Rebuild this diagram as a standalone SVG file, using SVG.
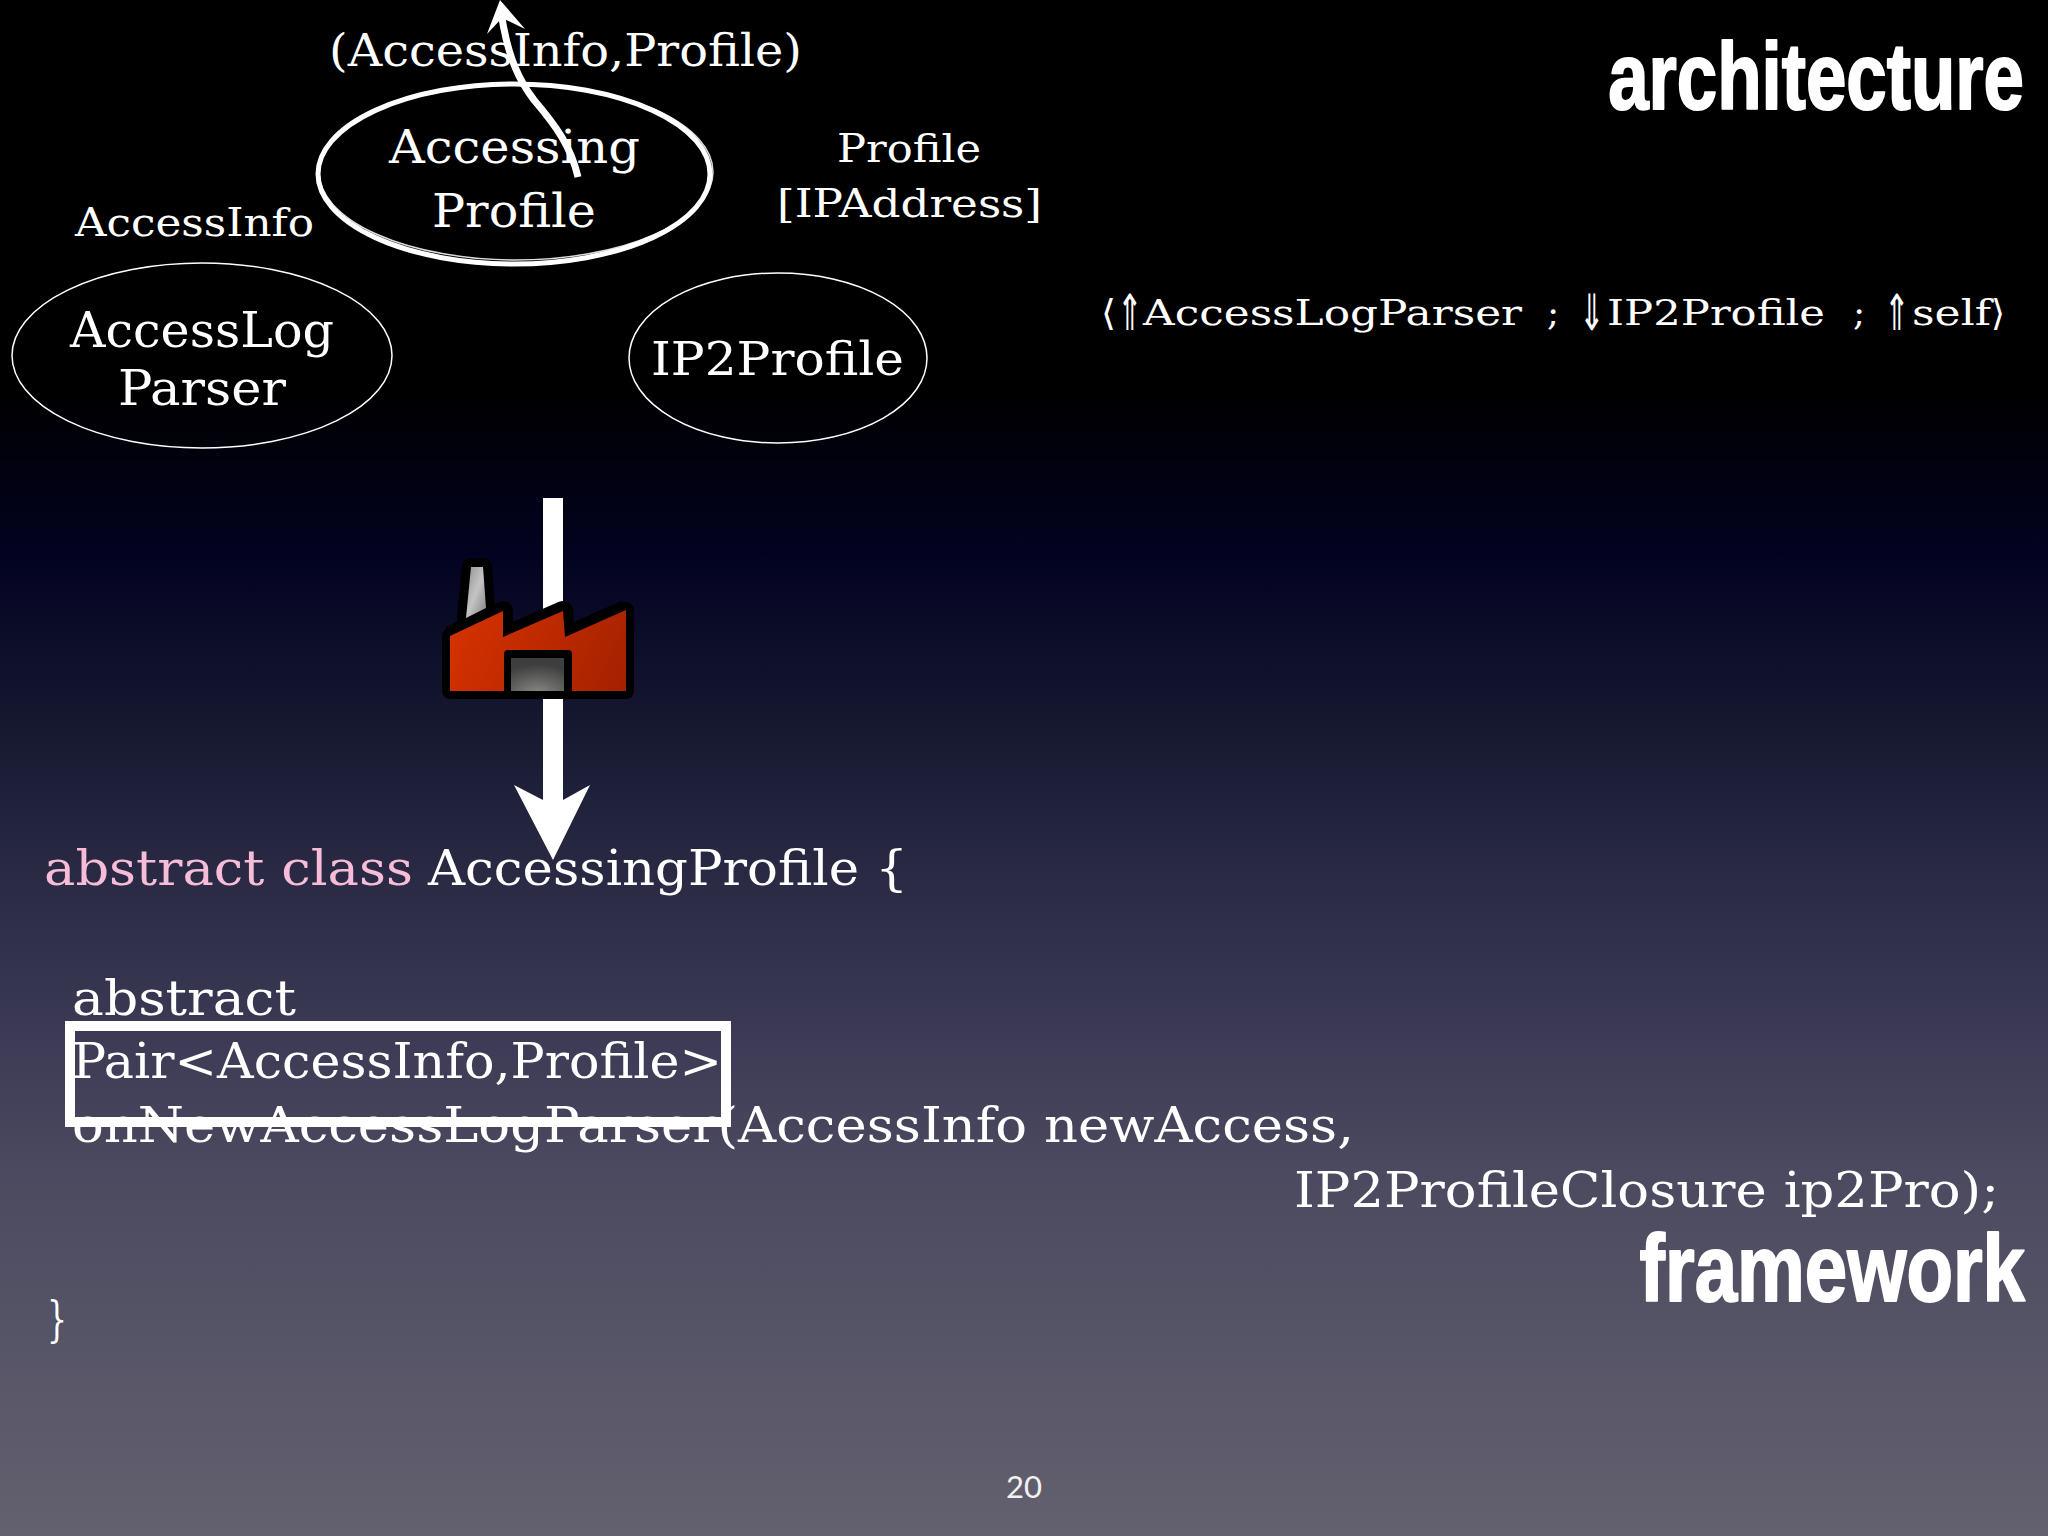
<svg xmlns="http://www.w3.org/2000/svg" width="2048" height="1536" viewBox="0 0 2048 1536">
<style>
text{font-family:"DejaVu Serif","Liberation Serif",serif;fill:#fff;white-space:pre}
.n{fill:none;stroke:#fff;stroke-width:1.5}
.h{font-family:"Liberation Sans",Arial,sans-serif;font-weight:700;stroke:#fff;stroke-width:2;stroke-linejoin:round;text-anchor:end}
.ar{font-family:"DejaVu Sans",sans-serif;font-size:50px}
</style>
<defs>
<linearGradient id="bg" x1="0" y1="0" x2="0" y2="1536" gradientUnits="userSpaceOnUse">
<stop offset="0" stop-color="#000"/><stop offset="0.25" stop-color="#000"/><stop offset="0.3125" stop-color="#010112"/><stop offset="0.365" stop-color="#030322"/><stop offset="0.471" stop-color="#161830"/><stop offset="0.578" stop-color="#2b2b45"/><stop offset="0.686" stop-color="#3e3c56"/><stop offset="0.757" stop-color="#4a495f"/><stop offset="1" stop-color="#63616f"/>
</linearGradient>
<linearGradient id="red" x1="450" y1="610" x2="626" y2="691" gradientUnits="userSpaceOnUse"><stop offset="0" stop-color="#d83200"/><stop offset="1" stop-color="#a32100"/></linearGradient>
<radialGradient id="door" cx="0.5" cy="1.1" r="0.9"><stop offset="0" stop-color="#8a8a86"/><stop offset="1" stop-color="#3e3e3e"/></radialGradient>
<linearGradient id="chim" x1="0" y1="0" x2="1" y2="1"><stop offset="0" stop-color="#8f8f8f"/><stop offset="0.5" stop-color="#c4c4c4"/><stop offset="1" stop-color="#808080"/></linearGradient>
</defs>
<rect id="background" width="2048" height="1536" fill="url(#bg)"/>

<g id="node-accesslogparser">
<ellipse class="n" cx="202" cy="355.5" rx="190" ry="92.5"/>
<text x="70" y="347" font-size="48" textLength="264" lengthAdjust="spacingAndGlyphs">AccessLog</text>
<text x="118" y="405" font-size="48" textLength="168" lengthAdjust="spacingAndGlyphs">Parser</text>
</g>
<g id="node-ip2profile">
<ellipse class="n" cx="778" cy="358" rx="149" ry="85"/>
<text x="651" y="375" font-size="46" textLength="253" lengthAdjust="spacingAndGlyphs">IP2Profile</text>
</g>
<g id="node-accessingprofile">
<ellipse cx="516" cy="172" rx="197" ry="88" fill="none" stroke="#ddd" stroke-width="1.5"/>
<ellipse cx="514" cy="174" rx="196" ry="90" fill="none" stroke="#fff" stroke-width="5"/>
<text x="389" y="163" font-size="46" textLength="251" lengthAdjust="spacingAndGlyphs">Accessing</text>
<text x="432" y="227" font-size="46" textLength="164" lengthAdjust="spacingAndGlyphs">Profile</text>
</g>
<g id="labels">
<text x="329" y="66" font-size="44" textLength="473" lengthAdjust="spacingAndGlyphs">(AccessInfo,Profile)</text>
<text x="75" y="236" font-size="40" textLength="239" lengthAdjust="spacingAndGlyphs">AccessInfo</text>
<text x="837" y="162" font-size="40" textLength="144" lengthAdjust="spacingAndGlyphs">Profile</text>
<text x="777" y="217" font-size="40" textLength="265" lengthAdjust="spacingAndGlyphs">[IPAddress]</text>
<text y="325" font-size="36"><tspan x="1101" textLength="15" lengthAdjust="spacingAndGlyphs">⟨</tspan><tspan class="ar" x="1117" y="330" textLength="26" lengthAdjust="spacingAndGlyphs">⇑</tspan><tspan x="1143" y="325" textLength="379" lengthAdjust="spacingAndGlyphs">AccessLogParser</tspan> <tspan x="1547">;</tspan> <tspan class="ar" x="1579" y="330" textLength="26" lengthAdjust="spacingAndGlyphs">⇓</tspan><tspan x="1607" y="325" textLength="218" lengthAdjust="spacingAndGlyphs">IP2Profile</tspan> <tspan x="1853">;</tspan> <tspan class="ar" x="1884" y="330" textLength="26" lengthAdjust="spacingAndGlyphs">⇑</tspan><tspan x="1912" y="325" textLength="79" lengthAdjust="spacingAndGlyphs">self</tspan><tspan x="1991" textLength="14" lengthAdjust="spacingAndGlyphs">⟩</tspan></text>
<text class="h" transform="translate(2024 109) scale(.773 1)" x="0" y="0" font-size="94" textLength="538" lengthAdjust="spacingAndGlyphs">architecture</text>
<text class="h" transform="translate(2025 1301) scale(.82 1)" x="0" y="0" font-size="94" textLength="470" lengthAdjust="spacingAndGlyphs">framework</text>
<text x="1024" y="1498" font-size="31" text-anchor="middle" style="font-family:Lato,'Liberation Sans',sans-serif;fill:#f2f2f2">20</text>
</g>
<g id="code">
<text x="44" y="885" font-size="48" textLength="369" lengthAdjust="spacingAndGlyphs" style="fill:#f6bcd8">abstract class</text>
<text x="428" y="885" font-size="48" textLength="480" lengthAdjust="spacingAndGlyphs">AccessingProfile {</text>
<text x="72" y="1015" font-size="48" textLength="224" lengthAdjust="spacingAndGlyphs">abstract</text>
<text x="72" y="1078" font-size="48" textLength="650" lengthAdjust="spacingAndGlyphs">Pair&lt;AccessInfo,Profile&gt;</text>
<text x="72" y="1142" font-size="48" textLength="1282" lengthAdjust="spacingAndGlyphs">onNewAccessLogParser(AccessInfo newAccess,</text>
<text x="1294" y="1207" font-size="48" textLength="705" lengthAdjust="spacingAndGlyphs">IP2ProfileClosure ip2Pro);</text>
<text x="47" y="1336" font-size="48" textLength="20" lengthAdjust="spacingAndGlyphs">}</text>
</g>
<rect id="highlight" x="70" y="1026" width="656" height="96" fill="none" stroke="#fff" stroke-width="10"/>

<g id="connectors">
<path d="M578 177C571 147 557 127 534 100C521 83 508 60 501 12" fill="none" stroke="#fff" stroke-width="7"/>
<path d="M500 0L525 29L502 18L487 34Z" fill="#fff"/>
<path d="M543 498H563V800L590 785L553 860L514 785L543 800Z" fill="#fff"/>
</g>
<g id="factory">
<path d="M471 567H483L486 608L466 618Z" fill="#000" stroke="#000" stroke-width="18" stroke-linejoin="round"/>
<path d="M450 636L503 611V637L563 611L565 637L626 610" fill="none" stroke="#000" stroke-width="20" stroke-linejoin="round"/>
<path d="M450 636L503 611V637L563 611L565 637L626 610V691H450Z" fill="#000" stroke="#000" stroke-width="16" stroke-linejoin="round"/>
<path d="M471 567H483L486 608L466 618Z" fill="url(#chim)"/>
<path d="M450 636L503 611V637L563 611L565 637L626 610V691H450Z" fill="url(#red)"/>
<rect x="504" y="650" width="68" height="45" rx="4" fill="#000"/>
<rect x="511" y="658" width="53" height="33" fill="url(#door)"/>
</g>
</svg>
